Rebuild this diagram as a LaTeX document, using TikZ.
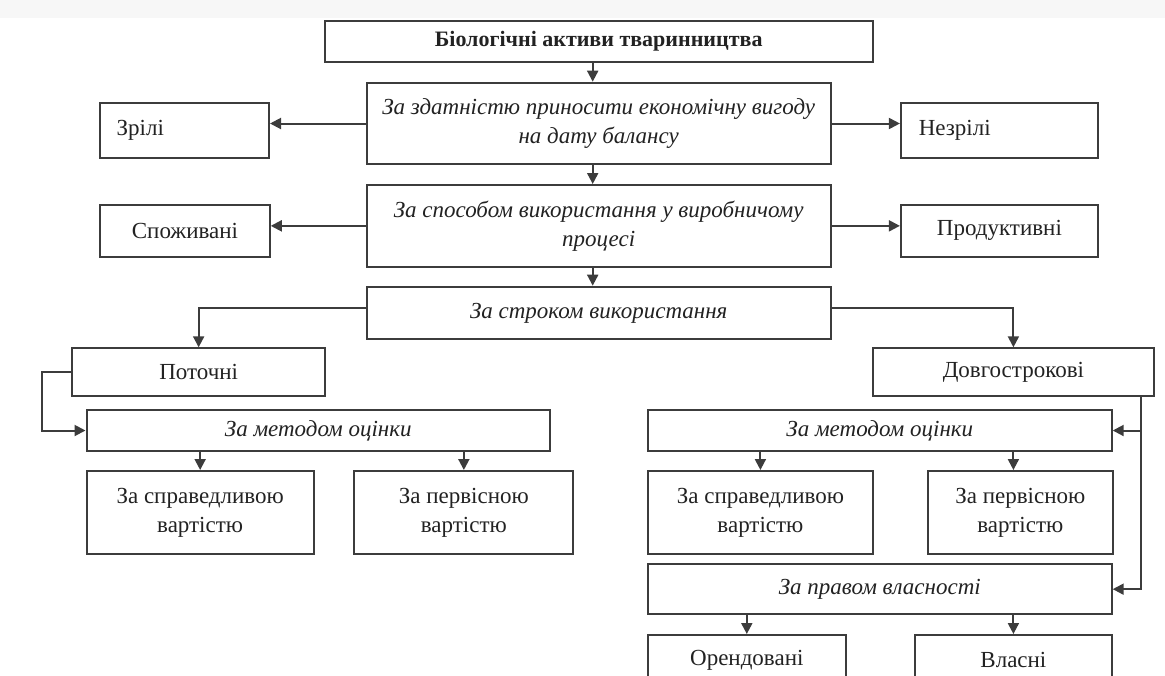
\documentclass[tikz,border=0pt]{standalone}
\usepackage{fontspec}
\setmainfont{Liberation Serif}
\usetikzlibrary{arrows.meta}
\definecolor{boxline}{HTML}{3C3C3C}
\definecolor{txt}{HTML}{222222}

\begin{document}
\begin{tikzpicture}[x=0.5pt, y=-0.5pt, line width=1pt,
    arr/.style={draw=boxline, -{Triangle[length=5.5pt,width=5.5pt]}},
    crit/.style={font=\fontsize{11.5}{14.5}\selectfont\itshape},
    kind/.style={font=\fontsize{11.5}{14.5}\selectfont}]
  \clip (0,0) rectangle (1165,675);
  \fill[gray!6] (0,0) rectangle (1165,18);
  \begin{scope}[every node/.style={draw=boxline, fill=white, text=txt, inner sep=0pt, align=center}]
    \node[minimum width=274.2pt, minimum height=20.8pt, font=\fontsize{11}{14}\selectfont\bfseries] (root) at (598.7,41.5) {Біологічні активи тваринництва};
    \node[crit, minimum width=232pt, minimum height=40.8pt] (ability) at (598.7,123.5) {За здатністю приносити економічну вигоду\\на дату балансу};
    \node[kind, minimum width=84.35pt, minimum height=27.8pt, text width=68pt, align=left] (mature) at (184.65,130.5) {Зрілі};
    \node[kind, minimum width=98.5pt, minimum height=27.8pt, text width=80.6pt, align=left] (immature) at (999.4,130.5) {Незрілі};
    \node[crit, minimum width=232pt, minimum height=40.85pt] (usage) at (598.7,225.85) {За способом використання у виробничому\\процесі};
    \node[kind, minimum width=84.75pt, minimum height=25.85pt] (consumed) at (185,230.85) {Споживані};
    \node[kind, minimum width=98.5pt, minimum height=25.85pt] (productive) at (999.4,230.85) {Продуктивні};
    \node[crit, minimum width=232pt, minimum height=26.3pt] (term) at (598.7,313) {За строком використання};
    \node[kind, minimum width=126.65pt, minimum height=23.85pt] (current) at (198.65,372.15) {Поточні};
    \node[kind, minimum width=140.5pt, minimum height=23.85pt] (longterm) at (1013.4,372.15) {Довгострокові};
    % current assets
    \node[crit, minimum width=231.75pt, minimum height=20.5pt] (cmethod) at (318.25,430.5) {За методом оцінки};
    \node[kind, minimum width=113.65pt, minimum height=41.5pt] (cfair) at (200.15,512.5) {За справедливою\\вартістю};
    \node[kind, minimum width=109.45pt, minimum height=41.5pt] (cinit) at (463.85,512.5) {За первісною\\вартістю};
    % long-term assets
    \node[crit, minimum width=231.9pt, minimum height=20.5pt] (lmethod) at (879.8,430.5) {За методом оцінки};
    \node[kind, minimum width=112.5pt, minimum height=41.5pt] (lfair) at (760.4,512.5) {За справедливою\\вартістю};
    \node[kind, minimum width=92.35pt, minimum height=41.5pt] (linit) at (1020.3,512.5) {За первісною\\вартістю};
    \node[crit, minimum width=231.9pt, minimum height=24.85pt] (owner) at (879.8,589.15) {За правом власності};
    \node[kind, minimum width=98.9pt, minimum height=25pt] (leased) at (746.8,660) {Орендовані};
    \node[kind, minimum width=98.35pt, minimum height=25pt] (own) at (1013.4,660) {Власні};
  \end{scope}
  \coordinate[xshift=-7pt] (trunk) at (longterm.south east);
  \draw[arr] ([xshift=-3pt]root.south) -- ([xshift=-3pt]ability.north);
  \draw[arr] ([xshift=-3pt]ability.south) -- ([xshift=-3pt]usage.north);
  \draw[arr] ([xshift=-3pt]usage.south) -- ([xshift=-3pt]term.north);
  \draw[arr] (ability.west) -- (ability.west -| mature.east);
  \draw[arr] (ability.east) -- (ability.east -| immature.west);
  \draw[arr] (usage.west) -- (usage.west -| consumed.east);
  \draw[arr] (usage.east) -- (usage.east -| productive.west);
  \draw[arr] ([yshift=2.75pt]term.west) -| (current.north);
  \draw[arr] ([yshift=2.75pt]term.east) -| (longterm.north);
  \draw[arr] (current.west) -- ++(-29,0) |- (cmethod.west);
  \draw[arr] (cmethod.south -| cfair.north) -- (cfair.north);
  \draw[arr] (cmethod.south -| cinit.north) -- (cinit.north);
  \draw[arr] (trunk) |- (owner.east);
  \draw[arr] (trunk |- lmethod.east) -- (lmethod.east);
  \draw[arr] (lmethod.south -| lfair.north) -- (lfair.north);
  \draw[arr] (lmethod.south -| longterm.north) -- (linit.north -| longterm.north);
  \draw[arr] (owner.south -| leased.north) -- (leased.north);
  \draw[arr] (owner.south -| own.north) -- (own.north);
\end{tikzpicture}
\end{document}
